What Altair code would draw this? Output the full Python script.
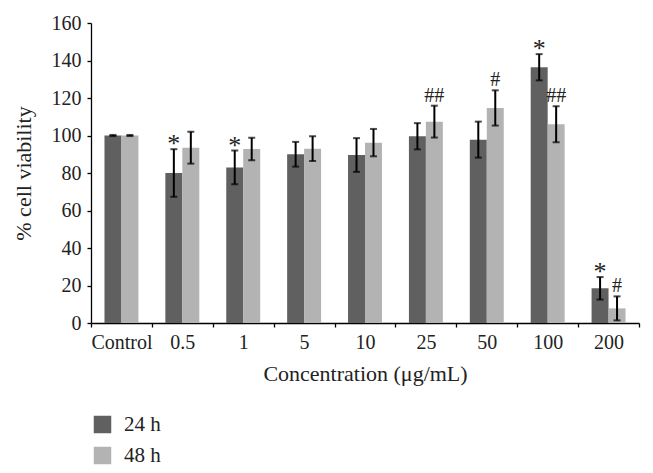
import altair as alt
import pandas as pd

categories = ["Control", "0.5", "1", "5", "10", "25", "50", "100", "200"]
series = ["24 h", "48 h"]
v24 = [100, 80, 83, 90, 89.6, 99.6, 97.8, 136.4, 18.5]
e24 = [0.3, 12.7, 9, 6.6, 9, 7, 9.6, 7, 6]
v48 = [100, 93.5, 92.8, 93, 96.2, 107.4, 114.7, 106, 7.8]
e48 = [0.3, 8.5, 6, 6.6, 7.3, 8.5, 9.4, 9.6, 6.4]

ann_cat = ["0.5", "1", "25", "50", "100", "100", "200", "200"]
ann_series = ["24 h", "24 h", "48 h", "48 h", "24 h", "48 h", "24 h", "48 h"]
ann_text = ["*", "*", "##", "#", "*", "##", "*", "#"]

FONT = "Liberation Serif"

rows = []
for i, c in enumerate(categories):
    rows.append(dict(cat=c, series=series[0], value=v24[i], err=e24[i]))
    rows.append(dict(cat=c, series=series[1], value=v48[i], err=e48[i]))
df = pd.DataFrame(rows)
df["lo"] = df["value"] - df["err"]
df["hi"] = df["value"] + df["err"]

ann = pd.DataFrame(dict(cat=ann_cat, series=ann_series, label=ann_text))
ann = ann.merge(df, on=["cat", "series"], how="left")
ann["star"] = ann["label"] == "*"

xaxis = alt.Axis(title="Concentration (μg/mL)", labelAngle=0, tickBand="extent",
                 labelPadding=5, titlePadding=11, titleFontSize=22,
                 labelFontSize=20)
yaxis = alt.Axis(title="% cell viability", values=list(range(0, 161, 20)), grid=False,
                 labelPadding=6, titlePadding=16, titleFontSize=22, labelFontSize=20)

X = alt.X("cat:N", sort=categories, scale=alt.Scale(paddingInner=0, paddingOuter=0), axis=xaxis)
XO = alt.XOffset("series:N", sort=series, scale=alt.Scale(paddingInner=0, paddingOuter=0.794))
yscale = alt.Scale(domain=[0, 160], nice=False)

bars = alt.Chart(df).mark_bar().encode(
    x=X, xOffset=XO,
    y=alt.Y("value:Q", scale=yscale, axis=yaxis),
    color=alt.Color("series:N", sort=series,
                    scale=alt.Scale(domain=series, range=["#606060", "#b3b3b3"]),
                    legend=alt.Legend(title=None, orient="none", legendX=1, legendY=391,
                                      symbolType="square", symbolSize=306, symbolStrokeWidth=0,
                                      symbolOpacity=1, labelFont=FONT, labelFontSize=21,
                                      labelOffset=11, rowPadding=9, padding=0,
                                      labelColor="#222")),
)

rules = alt.Chart(df).mark_rule(color="black", strokeWidth=2).encode(
    x=X, xOffset=XO,
    y=alt.Y("lo:Q", scale=yscale, axis=yaxis), y2="hi:Q")

cap_lo = alt.Chart(df).mark_tick(color="black", thickness=2, size=7).encode(
    x=X, xOffset=XO, y=alt.Y("lo:Q", scale=yscale, axis=yaxis))
cap_hi = alt.Chart(df).mark_tick(color="black", thickness=2, size=7).encode(
    x=X, xOffset=XO, y=alt.Y("hi:Q", scale=yscale, axis=yaxis))

stars = alt.Chart(ann).transform_filter("datum.star").mark_text(
    font=FONT, fontSize=26, baseline="alphabetic", dy=3, color="#222").encode(
    x=X, xOffset=XO, y=alt.Y("hi:Q", scale=yscale, axis=yaxis), text="label:N")
hashes = alt.Chart(ann).transform_filter("!datum.star").mark_text(
    font=FONT, fontSize=20, baseline="alphabetic", dy=-4, color="#222").encode(
    x=X, xOffset=XO, y=alt.Y("hi:Q", scale=yscale, axis=yaxis), text="label:N")

chart = alt.layer(bars, rules, cap_lo, cap_hi, stars, hashes).properties(
    width=548, height=300,
    autosize=alt.AutoSizeParams(type="none"),
    padding={"left": 83, "top": 15, "right": 6, "bottom": 142},
    background="white",
).configure_view(stroke=None).configure_axis(
    labelFont=FONT, titleFont=FONT, labelColor="#222", titleColor="#222",
    titleFontWeight="normal", domainColor="black", domainWidth=1.3,
    tickColor="black", tickSize=4, tickWidth=1.3,
)

chart.save("out.html", embed_options={"renderer": "svg", "actions": False})
